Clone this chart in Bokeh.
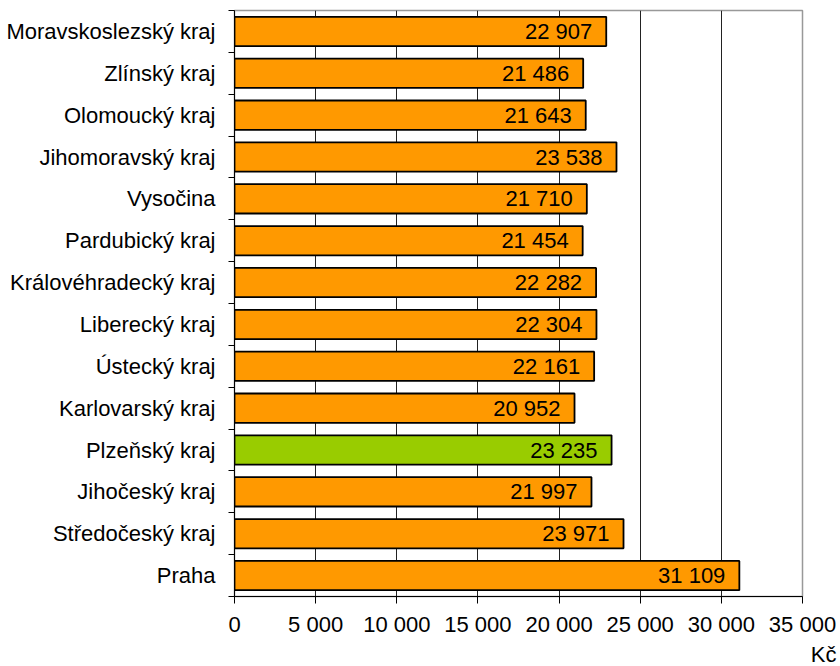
from bokeh.plotting import figure
from bokeh.models import ColumnDataSource, FixedTicker, Title, Range1d
from bokeh.core.properties import value
from bokeh.embed import file_html
from bokeh.resources import INLINE

# --- data (bottom to top) ---
regions = ["Praha", "Středočeský kraj", "Jihočeský kraj", "Plzeňský kraj",
           "Karlovarský kraj", "Ústecký kraj", "Liberecký kraj",
           "Královéhradecký kraj", "Pardubický kraj", "Vysočina",
           "Jihomoravský kraj", "Olomoucký kraj", "Zlínský kraj",
           "Moravskoslezský kraj"]
wages = [31109, 23971, 21997, 23235, 20952, 22161, 22304, 22282,
         21454, 21710, 23538, 21643, 21486, 22907]
highlight = "Plzeňský kraj"
x_ticks = [0, 5000, 10000, 15000, 20000, 25000, 30000, 35000]
x_tick_labels = ["0", "5 000", "10 000", "15 000", "20 000", "25 000", "30 000", "35 000"]
unit_label = "Kč"

ORANGE = "#FF9900"
GREEN = "#99CC00"
FONT = "Liberation Sans"
FS = "22px"

ypos = [i + 0.5 for i in range(len(regions))]
colors = [GREEN if r == highlight else ORANGE for r in regions]
labels = [f"{v:,}".replace(",", " ") for v in wages]

src = ColumnDataSource(dict(y=ypos, w=wages, c=colors, lab=labels))

p = figure(frame_width=568, frame_height=586, output_backend="svg", toolbar_location=None,
           x_range=Range1d(0, 35000), y_range=Range1d(0, len(regions)),
           min_border_left=234, min_border_right=38, min_border_top=10,
           min_border_bottom=66)

p.hbar(y="y", left=0, right="w", height=0.7, fill_color="c", line_color="#000000",
       line_width=1.8, source=src)
p.text(x="w", y="y", text="lab", source=src, x_offset=-14, text_align="right",
       text_baseline="middle", text_font=value(FONT), text_font_size=value(FS),
       text_color="#000000")

# x axis
p.xaxis.ticker = FixedTicker(ticks=x_ticks, minor_ticks=[])
p.xaxis.major_label_overrides = {t: l for t, l in zip(x_ticks, x_tick_labels)}
p.xaxis.major_label_text_font = FONT
p.xaxis.major_label_text_font_size = FS
p.xaxis.major_label_text_color = "#000000"
p.xaxis.major_label_standoff = 8
p.xaxis.axis_line_color = "#000000"
p.xaxis.major_tick_line_color = "#000000"
p.xaxis.major_tick_out = 7
p.xaxis.major_tick_in = 0

# y axis: labels at centers, ticks at boundaries
p.yaxis.ticker = FixedTicker(ticks=ypos, minor_ticks=list(range(len(regions) + 1)))
p.yaxis.major_label_overrides = {y: r for y, r in zip(ypos, regions)}
p.yaxis.major_label_text_font = FONT
p.yaxis.major_label_text_font_size = FS
p.yaxis.major_label_text_color = "#000000"
p.yaxis.major_label_standoff = 13
p.yaxis.major_tick_out = 0
p.yaxis.major_tick_in = 0
p.yaxis.minor_tick_out = 6
p.yaxis.minor_tick_in = 0
p.yaxis.minor_tick_line_color = "#000000"
p.yaxis.axis_line_color = "#000000"

# grid
p.xgrid.ticker = FixedTicker(ticks=x_ticks[1:])
p.xgrid.grid_line_color = "#222222"
p.xgrid.grid_line_width = 1
p.ygrid.grid_line_color = None

p.outline_line_color = "#999999"
p.outline_line_width = 1.5
p.background_fill_color = "white"
p.border_fill_color = "white"

p.add_layout(Title(text=unit_label, align="right", text_font=FONT, text_font_size=FS,
                   text_font_style="normal", text_color="#000000", standoff=0,
                   offset=-34), "below")

open("out.html", "w").write(file_html(p, INLINE))
